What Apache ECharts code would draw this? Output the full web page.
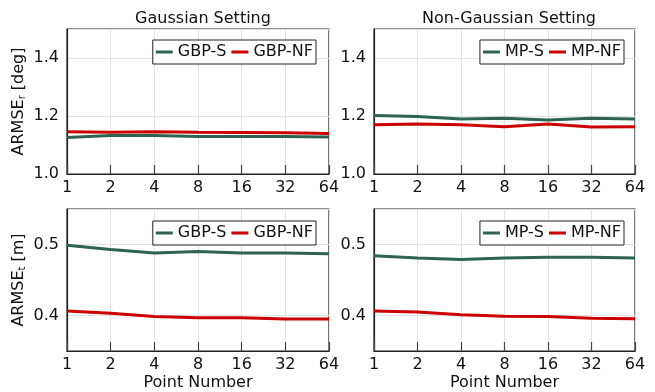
<!DOCTYPE html>
<html>
<head>
<meta charset="utf-8">
<script src="https://cdn.jsdelivr.net/npm/echarts@6/dist/echarts.min.js"></script>
<style>
  html, body { margin: 0; padding: 0; background: #fff; }
  #chart { width: 655px; height: 392px; }
</style>
</head>
<body>
<div id="chart"></div>
<script>
// point numbers (log2 spaced, drawn evenly)
const pointNumbers = ['1', '2', '4', '8', '16', '32', '64']

// rotation error [deg]
const gbpSRot = [1.126, 1.133, 1.133, 1.129, 1.129, 1.129, 1.128]
const gbpNfRot = [1.146, 1.144, 1.146, 1.144, 1.143, 1.142, 1.140]
const mpSRot = [1.202, 1.198, 1.190, 1.192, 1.186, 1.192, 1.190]
const mpNfRot = [1.170, 1.172, 1.170, 1.163, 1.172, 1.162, 1.163]

// translation error [m]
const gbpSTrans = [0.499, 0.493, 0.488, 0.490, 0.488, 0.488, 0.487]
const gbpNfTrans = [0.4065, 0.403, 0.3986, 0.397, 0.3967, 0.395, 0.395]
const mpSTrans = [0.484, 0.481, 0.479, 0.481, 0.482, 0.482, 0.481]
const mpNfTrans = [0.4065, 0.405, 0.401, 0.399, 0.3986, 0.396, 0.3955]

const GREEN = '#2e6351'
const RED = '#cc0000'
const FONT = 'DejaVu Sans'
const FS = 16
const FRAME = '#222'

const chart = echarts.init(document.getElementById('chart'), null, { renderer: 'canvas' })

const grids = [
  { left: 67, top: 29, width: 262, height: 145 },
  { left: 374, top: 29, width: 261, height: 145 },
  { left: 67, top: 209, width: 262, height: 146 },
  { left: 374, top: 209, width: 261, height: 146 },
].map(g => ({ ...g, show: true, borderColor: FRAME, borderWidth: 1.2, backgroundColor: 'transparent' }))

function xAxis(i, withName) {
  return {
    type: 'category',
    gridIndex: i,
    data: pointNumbers,
    boundaryGap: false,
    name: withName ? 'Point Number' : '',
    nameLocation: 'middle',
    nameGap: 24,
    nameTextStyle: { fontFamily: FONT, fontSize: FS, color: '#111' },
    axisLine: { lineStyle: { color: FRAME, width: 1.2 } },
    axisTick: { inside: true, length: 9, alignWithLabel: true, lineStyle: { color: '#444', width: 1.2 } },
    axisLabel: { fontFamily: FONT, fontSize: FS, color: '#111', margin: 6, interval: 0 },
    splitLine: { show: true, interval: 0, lineStyle: { color: '#e2e2e2', width: 1 } },
  }
}

function yLabel(extra) {
  return Object.assign({
    fontFamily: FONT, fontSize: FS, color: '#111', margin: 8,
    formatter: v => v.toFixed(1),
  }, extra)
}

function yAxis(i, opts) {
  return Object.assign({
    type: 'value',
    gridIndex: i,
    nameLocation: 'middle',
    nameGap: 40,
    nameTextStyle: {
      fontFamily: FONT, fontSize: FS, color: '#111',
      rich: { sub: { fontFamily: FONT, fontSize: 10, verticalAlign: 'bottom', padding: [6, 0, 0, 0] } },
    },
    axisLine: { show: true, lineStyle: { color: FRAME, width: 1.2 } },
    axisTick: { inside: true, length: 9, lineStyle: { color: '#444', width: 1.2 } },
    splitLine: { show: true, lineStyle: { color: '#e2e2e2', width: 1 } },
  }, opts)
}

const rotAxis = { min: 1.0, max: 1.5, interval: 0.2, axisLabel: yLabel({ showMaxLabel: false }) }
const transAxis = { min: 0.35, max: 0.55, splitNumber: 2, axisLabel: yLabel({ showMinLabel: false, showMaxLabel: false }) }

function legend(names, right, top) {
  return {
    data: names,
    right: right,
    top: top,
    orient: 'horizontal',
    icon: 'rect',
    itemWidth: 17,
    itemHeight: 3,
    itemGap: 5,
    padding: [4, 3],
    backgroundColor: '#fff',
    borderColor: '#222',
    borderWidth: 1,
    borderRadius: 0,
    textStyle: { fontFamily: FONT, fontSize: FS, color: '#111' },
  }
}

function line(name, data, color, i) {
  return {
    name: name,
    type: 'line',
    xAxisIndex: i,
    yAxisIndex: i,
    data: data,
    symbol: 'none',
    color: color,
    lineStyle: { color: color, width: 3 },
    z: 3,
  }
}

const option = {
  animation: false,
  backgroundColor: '#fff',
  title: [
    { text: 'Gaussian Setting', left: 198, top: 6, textAlign: 'center',
      textStyle: { fontFamily: FONT, fontSize: FS, fontWeight: 'normal', color: '#111' } },
    { text: 'Non-Gaussian Setting', left: 504, top: 6, textAlign: 'center',
      textStyle: { fontFamily: FONT, fontSize: FS, fontWeight: 'normal', color: '#111' } },
  ],
  legend: [
    legend(['GBP-S', 'GBP-NF'], 339, 40),
    legend(['MP-S', 'MP-NF'], 31, 40),
    legend(['GBP-S', 'GBP-NF'], 339, 221),
    legend(['MP-S', 'MP-NF'], 31, 221),
  ],
  grid: grids,
  xAxis: [xAxis(0, false), xAxis(1, false), xAxis(2, true), xAxis(3, true)],
  yAxis: [
    yAxis(0, Object.assign({ name: 'ARMSE{sub|r} [deg]' }, rotAxis)),
    yAxis(1, Object.assign({}, rotAxis)),
    yAxis(2, Object.assign({ name: 'ARMSE{sub|t} [m]' }, transAxis)),
    yAxis(3, Object.assign({}, transAxis)),
  ],
  series: [
    line('GBP-S', gbpSRot, GREEN, 0),
    line('GBP-NF', gbpNfRot, RED, 0),
    line('MP-S', mpSRot, GREEN, 1),
    line('MP-NF', mpNfRot, RED, 1),
    line('GBP-S', gbpSTrans, GREEN, 2),
    line('GBP-NF', gbpNfTrans, RED, 2),
    line('MP-S', mpSTrans, GREEN, 3),
    line('MP-NF', mpNfTrans, RED, 3),
  ],
}

chart.setOption(option)
</script>
</body>
</html>
